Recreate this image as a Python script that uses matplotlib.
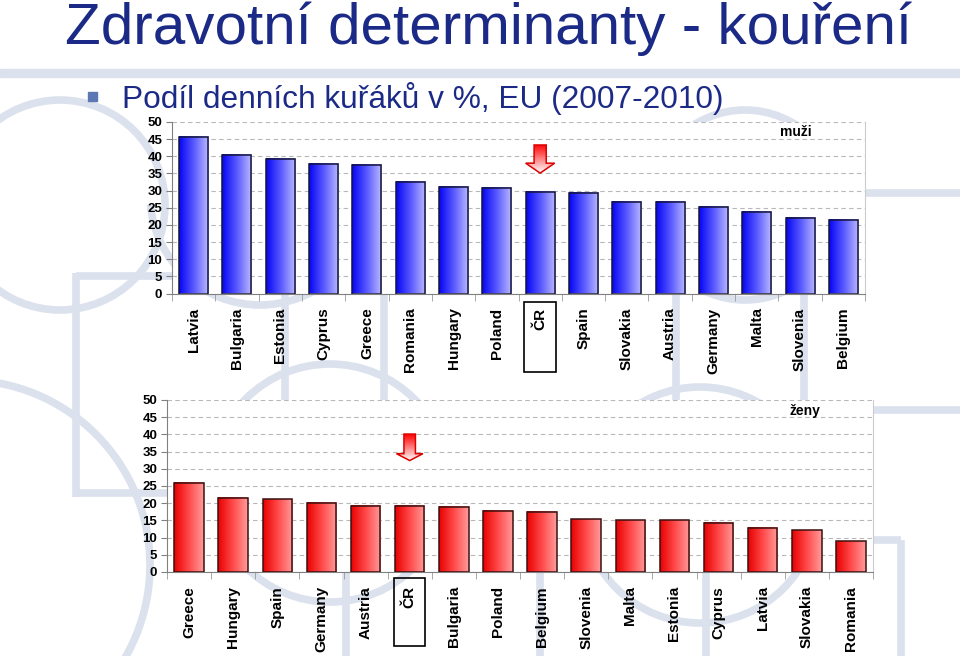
import numpy as np
import matplotlib.pyplot as plt
from matplotlib.colors import LinearSegmentedColormap
from matplotlib.patches import Rectangle, Polygon, Circle, Arc

plt.rcParams['font.family'] = ['Liberation Sans', 'DejaVu Sans']

# podil dennich kuraku v %, muzi
men_countries = ['Latvia', 'Bulgaria', 'Estonia', 'Cyprus', 'Greece', 'Romania',
                 'Hungary', 'Poland', 'ČR', 'Spain', 'Slovakia', 'Austria',
                 'Germany', 'Malta', 'Slovenia', 'Belgium']
men_values = [45.7, 40.3, 39.3, 37.8, 37.5, 32.5, 31.1, 30.8, 29.6, 29.3,
              26.7, 26.7, 25.1, 23.7, 21.9, 21.5]

# zeny
women_countries = ['Greece', 'Hungary', 'Spain', 'Germany', 'Austria', 'ČR',
                   'Bulgaria', 'Poland', 'Belgium', 'Slovenia', 'Malta',
                   'Estonia', 'Cyprus', 'Latvia', 'Slovakia', 'Romania']
women_values = [25.9, 21.6, 21.1, 20.1, 19.3, 19.3, 18.9, 17.8, 17.5, 15.4,
                15.1, 15.1, 14.3, 12.9, 12.2, 9.0]

title = 'Zdravotní determinanty - kouření'
subtitle = 'Podíl denních kuřáků v %, EU (2007-2010)'
navy = '#1b2a86'
wm = '#dbe1ed'

fig = plt.figure(figsize=(9.6, 6.56), dpi=100)

# background in pixel coordinates (watermark, band, title)
bg = fig.add_axes([0, 0, 1, 1], zorder=0)
bg.set_xlim(0, 960)
bg.set_ylim(656, 0)
bg.axis('off')

for cx, cy, r in [(60, 205, 105), (-35, 565, 185), (330, 483, 119),
                  (745, 205, 95), (700, 505, 118)]:
    bg.add_patch(Circle((cx, cy), r, fill=False, ec=wm, lw=5.5))
bg.add_patch(Arc((260, 195), 220, 220, theta1=5, theta2=175, ec=wm, lw=5.5))
segments = [
    ([76, 76], [273, 497]), ([76, 175], [276, 276]), ([76, 175], [493, 493]),
    ([285, 285], [293, 400]), ([384, 384], [293, 400]),
    ([676, 676], [293, 400]), ([804, 804], [293, 400]),
    ([346, 346], [573, 656]), ([540, 540], [573, 656]), ([706, 706], [573, 656]),
    ([865, 960], [193, 193]), ([873, 960], [410, 410]),
    ([873, 901], [540, 540]), ([901, 901], [540, 656]),
]
for xs, ys in segments:
    bg.plot(xs, ys, color=wm, lw=5.5, solid_capstyle='butt')

bg.add_patch(Rectangle((0, 69), 960, 8, color=wm))
bg.add_patch(Rectangle((88, 92), 9, 9, color='#5b78b4'))
bg.text(65, 44, title, fontsize=42, color=navy, va='baseline', ha='left')
bg.text(122, 108, subtitle, fontsize=22.8, color=navy, va='baseline', ha='left')

blue_cmap = LinearSegmentedColormap.from_list('b', ['#0505f5', '#5a5aff', '#bcbcff'])
red_cmap = LinearSegmentedColormap.from_list('r', ['#e80000', '#ff4a4a', '#ff9c9c'])
arrow_cmap = LinearSegmentedColormap.from_list('a', ['#ff0000', '#ff8080', '#ffffff'])


def draw_chart(rect, countries, values, cmap, edge, tag, tag_pos, arrow, box):
    ax = fig.add_axes(rect, zorder=1)
    ax.set_facecolor('white')
    x = np.arange(len(countries))
    bars = ax.bar(x, values, width=0.67, facecolor='none', edgecolor=edge,
                  linewidth=1.1, zorder=3)
    grad = np.linspace(0, 1, 256).reshape(1, -1)
    for b in bars:
        x0, w, h = b.get_x(), b.get_width(), b.get_height()
        ax.imshow(grad, cmap=cmap, extent=[x0, x0 + w, 0, h], aspect='auto',
                  zorder=2, interpolation='bilinear')

    # arrow pointing at CR
    c = countries.index('ČR')
    yt, yh, yb, sw, hw = arrow
    pts = [(c - sw, yt), (c + sw, yt), (c + sw, yh), (c + hw, yh), (c, yb),
           (c - hw, yh), (c - sw, yh)]
    poly = Polygon(pts, closed=True, fc='none', ec='#dd0000', lw=1.1, zorder=6)
    ax.add_patch(poly)
    im = ax.imshow(np.linspace(0, 1, 256).reshape(-1, 1), cmap=arrow_cmap,
                   extent=[c - hw, c + hw, yb, yt], aspect='auto', zorder=5)
    im.set_clip_path(poly)

    # box around CR label
    bw, btop, bbot = box
    ax.add_patch(Rectangle((c - bw, bbot), 2 * bw, btop - bbot,
                           transform=ax.get_xaxis_transform(), fill=False,
                           ec='black', lw=1.2, clip_on=False, zorder=4))

    ax.text(tag_pos[0], tag_pos[1], tag, fontsize=10, fontweight='bold',
            ha='center', va='center', zorder=7)

    ax.set_xlim(-0.5, len(countries) - 0.5)
    ax.set_ylim(0, 50)
    ax.set_yticks(range(0, 51, 5))
    ax.yaxis.grid(True, color='#b8b8b8', linestyle=(0, (4, 3)), linewidth=0.8)
    ax.set_axisbelow(True)
    ax.set_xticks(x, countries, rotation=90, fontsize=11, fontweight='bold')
    ax.set_xticks(np.arange(-0.5, len(countries)), minor=True)
    ax.tick_params(axis='x', which='major', length=0, pad=10)
    ax.tick_params(axis='x', which='minor', length=5, color='#9a9a9a')
    ax.tick_params(axis='y', length=4, color='#808080', labelsize=9.5, pad=3)
    for lab in ax.get_yticklabels():
        lab.set_fontweight('bold')
    ax.spines['top'].set_visible(False)
    ax.spines['right'].set_color('#cccccc')
    ax.spines['left'].set_color('#808080')
    ax.spines['bottom'].set_color('#808080')
    return ax


draw_chart([172 / 960, 1 - 293.5 / 656, 693 / 960, 171.5 / 656],
           men_countries, men_values, blue_cmap, '#15153a', 'muži', (13.9, 47.0),
           (43.3, 38.0, 35.1, 0.14, 0.335), (0.37, -0.047, -0.46))

draw_chart([167 / 960, 1 - 572 / 656, 706 / 960, 172 / 656],
           women_countries, women_values, red_cmap, '#3a1010', 'ženy', (13.95, 46.9),
           (40.1, 34.4, 32.4, 0.13, 0.30), (0.35, -0.035, -0.43))

fig.savefig('out.png', dpi=100)
